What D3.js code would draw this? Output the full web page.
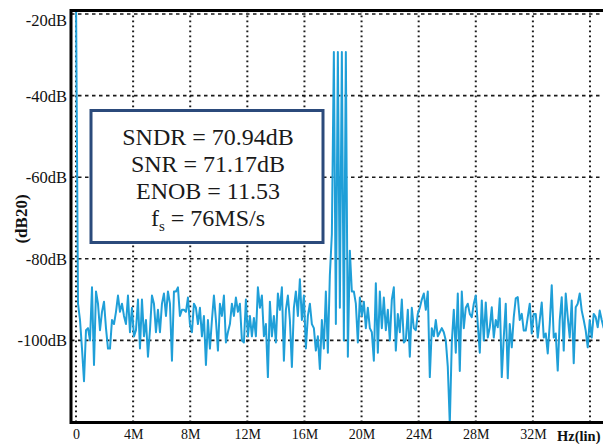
<!DOCTYPE html>
<html><head><meta charset="utf-8">
<script src="https://cdn.jsdelivr.net/npm/d3@7"></script>
<style>html,body{margin:0;padding:0;background:#fff;overflow:hidden}</style>
</head><body><svg id="c" width="603" height="444"></svg>
<script>
// ---- data ----
const freqStepMHz = 0.14;            // spacing between spectrum bins
const dcBin = [-15];
const noiseA = [-91,-95,-102,-110,-97.5,-97,-100,-87,-106,-88,-91,-97.5,-93,-90.5,-97,-102,-102,-95,-96,-93,
  -89,-93,-91,-94,-96,-89,-98,-92,-99,-97.5,-90,-102,-90,-99,-95,-104,-97.5,-89,-91,-98,
  -92.5,-98,-91,-88.5,-94,-88,-91,-105,-88,-88,-87,-94,-92.5,-92.5,-93,-89.5,-96,-98,-91,-92,
  -96,-92,-99];
const noiseB = [-94,-106,-95,-102,-95,-89,-95,-102.5,-91,-94,-89,-100.5,-98,-96,-91,-94,-89.5,-93,-91,-100,
  -100.5,-90,-99,-94,-99,-94.5,-99,-87,-92,-89,-99,-96,-109,-90.5,-99,-94,-100.5,-88.5,-92.5,-87,
  -105,-92.5,-89,-95,-106.5,-92,-88,-94,-85,-95,-89,-102,-94,-91,-96,-97,-102.5,-99,-107,-95,
  -102,-88,-103];
const toneRegion = [-84,-74,-29.3,-96,-29.3,-92,-29.3,-100,-29.3,-104,-78,-88];
const noiseC = [-88,-91,-100.5,-89.5,-94,-90.5,-97,-92,-97,-98,-105,-86,-103,-88,-97,-89.5,-97.5,-92.5,-100,-90,
  -87,-102.5,-93.5,-98,-90,-100.5,-100,-92.5,-104,-92,-97,-97.5,-93.5,-92,-90,-88.5,-92.5,-88,-109,-97,
  -99,-95,-99,-98,-97,-98,-100,-106.5,-120.5,-100.5,-92.5,-103,-88.5,-107.5,-88,-97,-92];
const noiseD = [-91,-93.5,-94.3,-91,-89,-96,-103,-90.2,-100,-90.7,-99.3,-96.8,-91.9,-99.3,-95,-96.8,-89.7,-109,-99.3,-91,
  -109.3,-96,-101.7,-94.3,-89.7,-89.4,-95,-93.5,-97.6,-97.6,-94.3,-91,-98.3,-93.5,-93.5,-99.3,-95,-90.7,-99.3,-98.3,
  -103.2,-96,-86.5,-99.3,-98.3,-107.4,-95,-89.4,-102.5,-88.5,-94.3,-99.3,-90.2,-105.6,-91.9,-91,-88.5,-92.7,-95,-97.6,
  -101.7,-95,-99.3,-93.5,-94.3,-96.8,-92.7,-95,-97];
const spectrumDb = [].concat(dcBin, noiseA, noiseB, toneRegion, noiseC, noiseD);

const xGridMHz = [0,4,8,12,16,20,24,28,32,36];
const xTickMHz = [0,4,8,12,16,20,24,28,32];
const xTickLabels = ["0","4M","8M","12M","16M","20M","24M","28M","32M"];
const yTickDb = [-20,-40,-60,-80,-100];
const yTickLabels = ["-20dB","-40dB","-60dB","-80dB","-100dB"];
const infoLines = ["SNDR = 70.94dB","SNR = 71.17dB","ENOB = 11.53"];
const fsText = {main:"f", sub:"s", rest:" = 76MS/s"};

// ---- drawing ----
const svg = d3.select("#c");
const x = d3.scaleLinear().domain([0,36]).range([76,590]);
const y = d3.scaleLinear().domain([-120,-20]).range([422,14]);
const L = 71, T = 10.5, B = 422.5, R = 640;
const serif = "'Liberation Serif','Times New Roman',serif";

svg.append("rect").attr("width",603).attr("height",444).attr("fill","#fff");

svg.append("defs").append("clipPath").attr("id","clip")
  .append("rect").attr("x",L+1.5).attr("y",T+1.5).attr("width",R-L).attr("height",B-T-3);

// gridlines
svg.append("g").selectAll("line").data(yTickDb).join("line")
  .attr("x1",L).attr("x2",R).attr("y1",d=>y(d)).attr("y2",d=>y(d))
  .attr("stroke","#1a1a1a").attr("stroke-width",1.6).attr("stroke-dasharray","3.5,3.5");
svg.append("g").selectAll("line").data(xGridMHz).join("line")
  .attr("x1",d=>x(d)).attr("x2",d=>x(d)).attr("y1",T).attr("y2",B)
  .attr("stroke","#1a1a1a").attr("stroke-width",2).attr("stroke-dasharray","1.8,3.2");

// spectrum line
const line = d3.line().x((d,i)=>x(i*freqStepMHz)).y(d=>y(d));
svg.append("path").datum(spectrumDb).attr("clip-path","url(#clip)")
  .attr("d",line).attr("fill","none").attr("stroke","#1f9fd8").attr("stroke-width",2)
  .attr("stroke-linejoin","round");

// frame
svg.append("path").attr("d",`M${R},${T}H${L}V${B}H${R}`)
  .attr("fill","none").attr("stroke","#000").attr("stroke-width",3);

// y axis labels
const yAx = svg.append("g").attr("transform",`translate(${L-4},0)`)
  .call(d3.axisLeft(y).tickValues(yTickDb).tickFormat((d,i)=>yTickLabels[i]).tickSize(0).tickPadding(0));
yAx.select(".domain").remove();
yAx.selectAll("text").attr("font-family",serif).attr("font-size",16.5).attr("fill","#111")
  .attr("dy",(d)=> d===-20 ? "0.7em" : "0.33em");

// x axis labels
const xAx = svg.append("g").attr("transform",`translate(0,${B+5})`)
  .call(d3.axisBottom(x).tickValues(xTickMHz).tickFormat((d,i)=>xTickLabels[i]).tickSize(0).tickPadding(0));
xAx.select(".domain").remove();
xAx.selectAll("text").attr("font-family",serif).attr("font-size",14).attr("fill","#111").attr("dy","0.85em");

svg.append("text").attr("x",557).attr("y",441).attr("font-family",serif).attr("font-weight","bold")
  .attr("font-size",14.5).attr("fill","#111").text("Hz(lin)");
svg.append("text").attr("transform","translate(27,219) rotate(-90)").attr("text-anchor","middle")
  .attr("font-family",serif).attr("font-weight","bold").attr("font-size",17).attr("fill","#111").text("(dB20)");

// info box
svg.append("rect").attr("x",91).attr("y",110.5).attr("width",232).attr("height",132)
  .attr("fill","#fff").attr("stroke","#2b4a7b").attr("stroke-width",3);
const cx = 208;
infoLines.forEach((t,i)=>{
  svg.append("text").attr("x",cx).attr("y",145+27*i).attr("text-anchor","middle")
    .attr("font-family",serif).attr("font-size",24).attr("fill","#1a1a1a").text(t);
});
const fsT = svg.append("text").attr("x",cx).attr("y",226).attr("text-anchor","middle")
  .attr("font-family",serif).attr("font-size",24).attr("fill","#1a1a1a");
fsT.append("tspan").text(fsText.main);
fsT.append("tspan").attr("font-size",15).attr("dy",5).text(fsText.sub);
fsT.append("tspan").attr("dy",-5).text(fsText.rest);
</script></body></html>
